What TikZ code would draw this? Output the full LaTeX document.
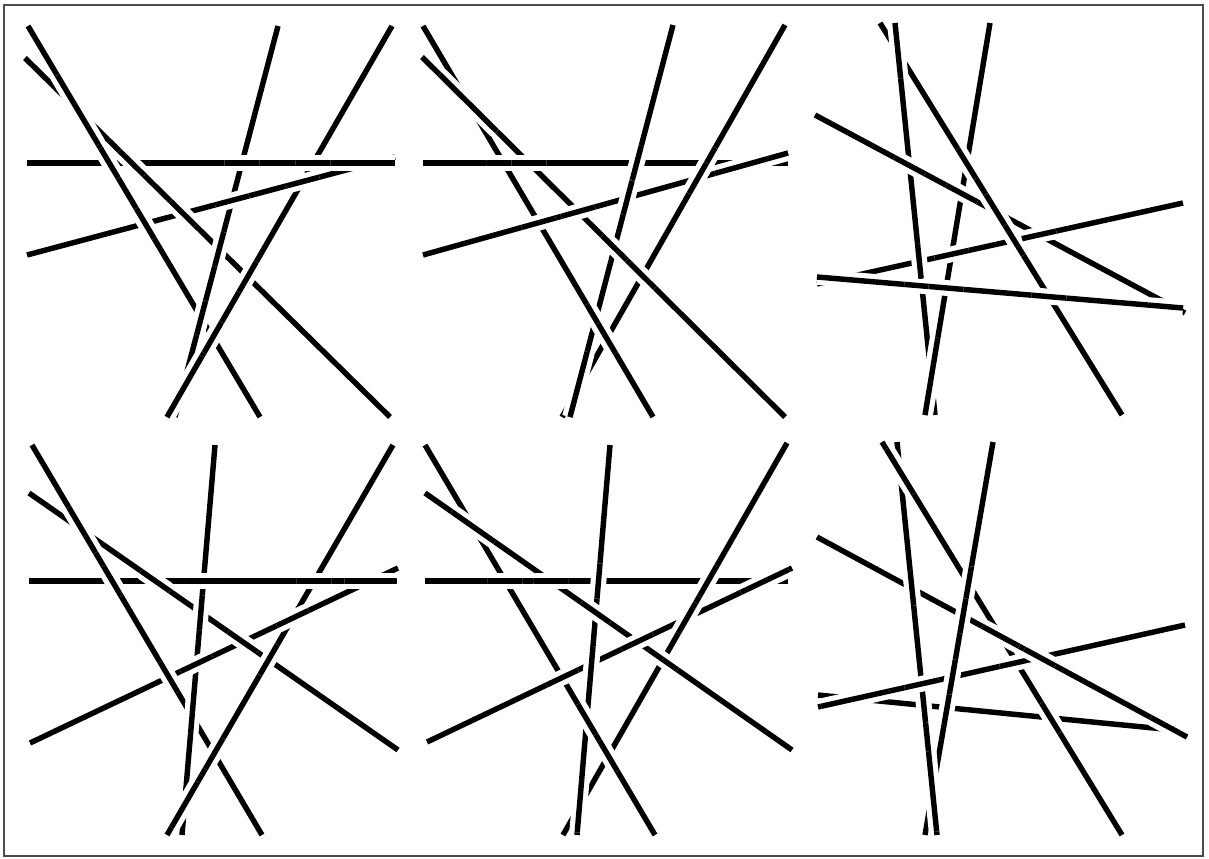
\documentclass[tikz,border=0pt]{standalone}
\begin{document}
\begin{tikzpicture}[x=0.02cm, y=-0.02cm,
        % Configuración de las barras (líneas negras)
        barra/.style={black, line width=3.1pt},
        % Hueco blanco que deja la barra de arriba en cada cruce
        hueco/.style={white, line width=9pt},
        % Marco exterior
        marco/.style={black!70, line width=0.6pt}
    ]
    \useasboundingbox (0,0) rectangle (1209,858);
    \draw[marco] (4,5) rectangle (1203,856);

    % Panel 1 (arriba, izquierda)
    \coordinate (A1i) at (28,26);   \coordinate (A1f) at (260,417);
    \coordinate (B1i) at (25,58);   \coordinate (B1f) at (390,417);
    \coordinate (C1i) at (278,26);  \coordinate (C1f) at (175,417);
    \coordinate (D1i) at (392,26);  \coordinate (D1f) at (167,417);
    \coordinate (E1i) at (27,163);  \coordinate (E1f) at (395,163);
    \coordinate (F1i) at (27,255);  \coordinate (F1f) at (395,157);

    % Panel 2 (arriba, centro)
    \coordinate (A2i) at (423,26);  \coordinate (A2f) at (653,417);
    \coordinate (B2i) at (422,57);  \coordinate (B2f) at (785,417);
    \coordinate (C2i) at (673,25);  \coordinate (C2f) at (570,417);
    \coordinate (D2i) at (785,25);  \coordinate (D2f) at (562,417);
    \coordinate (E2i) at (423,163); \coordinate (E2f) at (788,163);
    \coordinate (F2i) at (423,255); \coordinate (F2f) at (788,153);

    % Panel 3 (arriba, derecha)
    \coordinate (H3i) at (880,23);  \coordinate (H3f) at (1122,415);
    \coordinate (G3i) at (895,23);  \coordinate (G3f) at (935,415);
    \coordinate (I3i) at (990,23);  \coordinate (I3f) at (925,415);
    \coordinate (J3i) at (815,115); \coordinate (J3f) at (1185,313);
    \coordinate (K3i) at (817,277); \coordinate (K3f) at (1183,308);
    \coordinate (L3i) at (1183,203); \coordinate (L3f) at (817,284);

    % Panel 4 (abajo, izquierda)
    \coordinate (A4i) at (32,445);  \coordinate (A4f) at (262,835);
    \coordinate (B4i) at (29,493);  \coordinate (B4f) at (398,750);
    \coordinate (C4i) at (215,445); \coordinate (C4f) at (182,835);
    \coordinate (D4i) at (393,445); \coordinate (D4f) at (167,835);
    \coordinate (E4i) at (29,581);  \coordinate (E4f) at (397,581);
    \coordinate (F4i) at (30,743);  \coordinate (F4f) at (398,568);

    % Panel 5 (abajo, centro)
    \coordinate (A5i) at (425,445); \coordinate (A5f) at (655,835);
    \coordinate (B5i) at (425,493); \coordinate (B5f) at (792,750);
    \coordinate (C5i) at (610,445); \coordinate (C5f) at (577,835);
    \coordinate (D5i) at (787,443); \coordinate (D5f) at (563,835);
    \coordinate (E5i) at (425,581); \coordinate (E5f) at (788,581);
    \coordinate (F5i) at (427,742); \coordinate (F5f) at (792,568);

    % Panel 6 (abajo, derecha)
    \coordinate (H6i) at (882,442); \coordinate (H6f) at (1122,835);
    \coordinate (G6i) at (897,442); \coordinate (G6f) at (937,835);
    \coordinate (I6i) at (993,442); \coordinate (I6f) at (925,835);
    \coordinate (J6i) at (817,537); \coordinate (J6f) at (1187,737);
    \coordinate (K6i) at (818,695); \coordinate (K6f) at (1184,731);
    \coordinate (L6i) at (1185,625); \coordinate (L6f) at (818,707);

    % Todas las barras
    \foreach \l in {A1,B1,C1,D1,E1,F1, A2,B2,C2,D2,E2,F2, H3,G3,I3,J3,K3,L3,
                    A4,B4,C4,D4,E4,F4, A5,B5,C5,D5,E5,F5, H6,G6,I6,J6,K6,L6}
        \draw[barra] (\l i) -- (\l f);

    % Cruces: barra de arriba / barra de abajo / radio del hueco
    \foreach \s/\b/\r in {
            A1/B1/23pt, C1/A1/10pt, D1/A1/10pt, A1/E1/10pt, A1/F1/10pt,
            C1/B1/10pt, D1/B1/10pt, B1/E1/10pt, B1/F1/10pt, D1/C1/23pt,
            E1/C1/10pt, F1/C1/10pt, E1/D1/10pt, F1/D1/10pt, E1/F1/23pt,
            B2/A2/23pt, A2/C2/10pt, A2/D2/10pt, E2/A2/10pt, F2/A2/10pt,
            B2/C2/10pt, B2/D2/10pt, E2/B2/10pt, F2/B2/10pt, C2/D2/23pt,
            C2/E2/10pt, C2/F2/10pt, D2/E2/10pt, D2/F2/10pt, F2/E2/22pt,
            G3/H3/15pt, H3/I3/10pt, H3/J3/12pt, K3/H3/10pt, H3/L3/10pt,
            I3/G3/23pt, J3/G3/10pt, K3/G3/10pt, G3/L3/10pt, J3/I3/10pt,
            K3/I3/10pt, L3/I3/10pt, K3/J3/15pt, L3/J3/10pt, K3/L3/20pt,
            A4/B4/15pt, C4/A4/10pt, D4/A4/10pt, A4/E4/10pt, A4/F4/10pt,
            C4/B4/10pt, D4/B4/10pt, B4/E4/10pt, B4/F4/10pt, D4/C4/15pt,
            E4/C4/10pt, F4/C4/10pt, E4/D4/10pt, F4/D4/10pt, E4/F4/15pt,
            B5/A5/15pt, A5/C5/10pt, A5/D5/10pt, E5/A5/10pt, F5/A5/10pt,
            B5/C5/10pt, B5/D5/10pt, E5/B5/10pt, F5/B5/10pt, C5/D5/15pt,
            C5/E5/10pt, C5/F5/10pt, D5/E5/10pt, D5/F5/10pt, F5/E5/15pt,
            H6/G6/15pt, I6/H6/10pt, J6/H6/12pt, H6/K6/10pt, L6/H6/10pt,
            G6/I6/23pt, G6/J6/10pt, G6/K6/10pt, L6/G6/10pt, I6/J6/10pt,
            I6/K6/10pt, I6/L6/10pt, J6/K6/15pt, J6/L6/10pt, L6/K6/20pt}{
        \begin{scope}
            \clip (intersection of \s i--\s f and \b i--\b f) circle[radius=\r];
            \draw[hueco] (\s i) -- (\s f);
            \draw[barra] (\s i) -- (\s f);
        \end{scope}
    }

\end{tikzpicture}
\end{document}
